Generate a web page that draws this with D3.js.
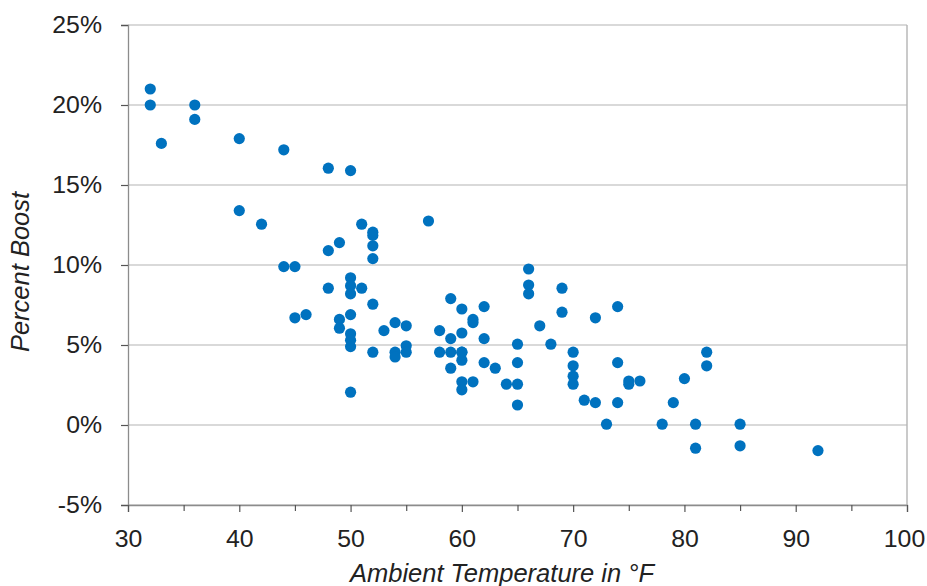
<!DOCTYPE html>
<html>
<head>
<meta charset="utf-8">
<script src="https://cdn.jsdelivr.net/npm/d3@7"></script>
<style>
  body { margin: 0; background: #fff; }
  text { font-family: "Liberation Sans", Arial, sans-serif; fill: #222; }
</style>
</head>
<body>
<div id="chart"></div>
<script>
// ambient temperature (°F) and percent boost (%)
const temps = [
  32, 32, 33, 36, 36, 40, 40, 42, 44, 44,
  45, 45, 46, 48, 48, 48, 49, 49, 49, 50,
  50, 50, 50, 50, 50, 50, 50, 50, 51, 51,
  52, 52, 52, 52, 52, 52, 53, 54, 54, 54,
  55, 55, 55, 57, 58, 58, 59, 59, 59, 59,
  60, 60, 60, 60, 60, 60, 60, 61, 61, 61,
  62, 62, 62, 63, 64, 65, 65, 65, 65, 66,
  66, 66, 67, 68, 69, 69, 70, 70, 70, 70,
  71, 72, 72, 73, 74, 74, 74, 75, 75, 76,
  78, 79, 80, 81, 81, 82, 82, 85, 85, 92
];
const boosts = [
  21.0, 20.0, 17.6, 20.0, 19.1, 17.9, 13.4, 12.55, 17.2, 9.9,
  9.9, 6.7, 6.9, 16.05, 10.9, 8.55, 11.4, 6.6, 6.05, 15.9,
  9.2, 8.7, 8.2, 6.9, 5.7, 5.3, 4.9, 2.05, 12.55, 8.55,
  12.05, 11.85, 11.2, 10.4, 7.55, 4.55, 5.9, 6.4, 4.55, 4.25,
  6.2, 4.95, 4.55, 12.75, 5.9, 4.55, 7.9, 5.4, 4.55, 3.55,
  7.25, 5.75, 4.55, 4.05, 2.7, 2.2, 4.55, 6.6, 6.4, 2.7,
  7.4, 5.4, 3.9, 3.55, 2.55, 5.05, 3.9, 2.55, 1.25, 9.75,
  8.75, 8.2, 6.2, 5.05, 8.55, 7.05, 4.55, 3.7, 3.05, 2.55,
  1.55, 6.7, 1.4, 0.05, 7.4, 3.9, 1.4, 2.75, 2.55, 2.75,
  0.05, 1.4, 2.9, 0.05, -1.45, 4.55, 3.7, 0.05, -1.3, -1.6
];
const xTicks = [30, 40, 50, 60, 70, 80, 90, 100];
const xMinorTicks = [35, 45, 55, 65, 75, 85, 95];
const yTicks = [-5, 0, 5, 10, 15, 20, 25];

const width = 927;
const height = 586;
const margin = { top: 25, right: 20, bottom: 81, left: 128 };
const plotW = width - margin.left - margin.right;
const plotH = height - margin.top - margin.bottom;
const stretch = 1.08; // tick labels in the original are drawn a bit wide

const svg = d3.select("#chart")
  .append("svg")
  .attr("width", width)
  .attr("height", height);

const g = svg.append("g")
  .attr("transform", `translate(${margin.left},${margin.top})`);

const x = d3.scaleLinear().domain([30, 100]).range([0, plotW]);
const y = d3.scaleLinear().domain([-5, 25]).range([plotH, 0]);

// horizontal grid lines
g.selectAll(".grid")
  .data(yTicks)
  .enter()
  .append("line")
  .attr("x1", 0)
  .attr("x2", plotW)
  .attr("y1", d => y(d))
  .attr("y2", d => y(d))
  .attr("stroke", "#b4b4b4")
  .attr("stroke-width", 1.2);

// right border
g.append("line")
  .attr("x1", plotW).attr("x2", plotW)
  .attr("y1", 0).attr("y2", plotH)
  .attr("stroke", "#b4b4b4")
  .attr("stroke-width", 1.4);

// y axis
const yAxis = g.append("g")
  .call(d3.axisLeft(y).tickValues(yTicks).tickSize(7).tickPadding(19).tickFormat(d => d + "%"));
yAxis.selectAll("text")
  .attr("x", -26 / stretch)
  .attr("dy", "0.33em");

// x axis, major + minor ticks
const xAxis = g.append("g")
  .attr("transform", `translate(0,${plotH})`)
  .call(d3.axisBottom(x).tickValues(xTicks).tickSize(7).tickPadding(19).tickFormat(d3.format("d")));
// keep the last label inside the window
xAxis.selectAll("text").filter(d => d === 100).attr("x", -3 / stretch);

g.append("g")
  .attr("transform", `translate(0,${plotH})`)
  .call(d3.axisBottom(x).tickValues(xMinorTicks).tickSize(6).tickFormat(""))
  .select(".domain").remove();

[yAxis, xAxis].forEach(a => {
  a.select(".domain").attr("stroke", "#8c8c8c").attr("stroke-width", 1.3);
  a.selectAll("text")
    .attr("transform", `scale(${stretch},1)`)
    .style("font-size", "23px")
    .style("font-family", "'Liberation Sans', Arial, sans-serif")
    .attr("fill", "#222");
});
g.selectAll(".tick line").attr("stroke", "#555").attr("stroke-width", 1.2);

// points
g.selectAll("circle")
  .data(temps.map((t, i) => [t, boosts[i]]))
  .enter()
  .append("circle")
  .attr("cx", d => x(d[0]))
  .attr("cy", d => y(d[1]))
  .attr("r", 5.6)
  .attr("fill", "#0072bf");

// axis titles
svg.append("text")
  .attr("x", 502)
  .attr("y", 582)
  .attr("text-anchor", "middle")
  .style("font-size", "25.5px")
  .style("font-style", "italic")
  .text("Ambient Temperature in \u00b0F");

svg.append("text")
  .attr("transform", "translate(29,272) rotate(-90)")
  .attr("text-anchor", "middle")
  .style("font-size", "25.5px")
  .style("font-style", "italic")
  .text("Percent Boost");
</script>
</body>
</html>
